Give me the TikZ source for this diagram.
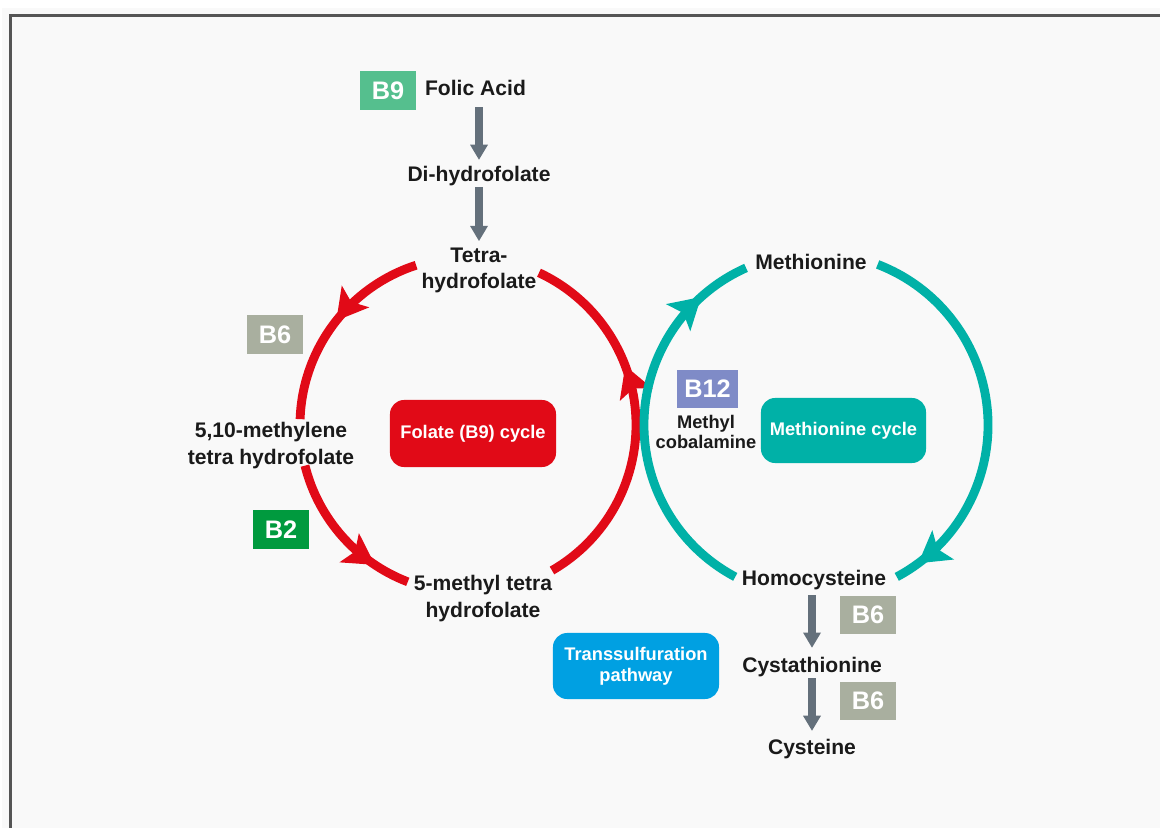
\documentclass[tikz,border=0pt]{standalone}
\usepackage{fontspec}
\setmainfont{Liberation Sans}
\usetikzlibrary{arrows.meta,decorations.markings}
\definecolor{cred}{RGB}{225,10,23}
\definecolor{cteal}{RGB}{0,177,167}
\definecolor{cblue}{RGB}{0,160,226}
\definecolor{cbnine}{RGB}{85,191,142}
\definecolor{cbsix}{RGB}{169,175,159}
\definecolor{cbtwo}{RGB}{0,154,62}
\definecolor{cbtwelve}{RGB}{127,139,199}
\definecolor{garr}{RGB}{100,112,123}
\definecolor{txt}{RGB}{26,26,26}
\definecolor{bg}{RGB}{249,249,249}
\definecolor{frame}{RGB}{85,85,85}
\tikzset{
  rtip/.tip={Stealth[length=22pt,width=25pt,inset=5pt,line width=0pt]},
  ttip/.tip={Stealth[length=22pt,width=26pt,inset=5pt,line width=0pt]},
}
\begin{document}
\begin{tikzpicture}[x=0.025cm,y=-0.025cm,
  lbl/.style={font=\bfseries\fontsize{15}{19}\selectfont, text=txt, inner sep=0pt, text height=11.25pt, text depth=3.75pt},
  mlbl/.style={font=\bfseries\fontsize{15}{19}\selectfont, text=txt, inner sep=0pt, align=center},
  slbl/.style={font=\bfseries\fontsize{13}{14.2}\selectfont, text=txt, inner sep=0pt, align=center},
  vit/.style={font=\bfseries\fontsize{18}{22}\selectfont, text=white, inner sep=0pt, minimum width=1.4cm, minimum height=0.975cm},
  cyc/.style={rounded corners=10pt, font=\bfseries\fontsize{13}{14.9}\selectfont, text=white, inner sep=0pt, align=center, minimum width=4.15cm, minimum height=1.65cm},
  garrow/.style={draw=garr, line width=5.5pt, -{Triangle[length=10.7pt,width=12.8pt,line width=0pt]}},
  redarc/.style={draw=cred, line width=6.3pt},
  tealarc/.style={draw=cteal, line width=6.3pt},
  mk/.style 2 args={postaction={decorate}, decoration={markings, mark=at position #1 with {\arrow{#2}}}},
]
\useasboundingbox (0,0) rectangle (1160,828);
\fill[white] (0,0) rectangle (1160,828);
\fill[bg] (2,8) rectangle (1160,828);
\draw[frame, line width=1.5pt] (10.5,830) -- (10.5,15.5) -- (1165,15.5);

% circles
\coordinate (R) at (468,425);
\coordinate (T) at (816,425);
\draw[redarc, mk={0.48}{rtip}] (R) ++(-108:168) arc[start angle=-108, end angle=-178, radius=168];
\draw[redarc, mk={0.77}{rtip}] (R) ++(-194:168) arc[start angle=-194, end angle=-249, radius=168];
\draw[redarc, mk={0.645}{rtip}] (R) ++(60:168) arc[start angle=60, end angle=-65, radius=168];
\draw[tealarc, mk={0.86}{ttip}] (T) ++(-242:172) arc[start angle=-242, end angle=-114, radius=172];
\draw[tealarc, mk={0.935}{ttip}] (T) ++(-69:172) arc[start angle=-69, end angle=62, radius=172];

% vitamin boxes
\node[vit, fill=cbnine] (b9) at (388,90.5) {B9};
\node[vit, fill=cbsix] (b6a) at (275,334.5) {B6};
\node[vit, fill=cbtwo] (b2) at (281,529.5) {B2};
\node[vit, fill=cbtwelve, minimum width=1.525cm, minimum height=0.95cm] (b12) at (707.5,389) {B12};
\node[vit, fill=cbsix, minimum height=0.95cm] (b6b) at (868,615) {B6};
\node[vit, fill=cbsix, minimum height=0.95cm] (b6c) at (868,701) {B6};

% cycle boxes
\node[cyc, fill=cred, text height=9.75pt, text depth=3.25pt, minimum height=1.675cm] (folate) at (473,433.5) {Folate (B9) cycle};
\node[cyc, fill=cteal, text height=9.75pt, text depth=3.25pt, minimum width=4.125cm, minimum height=1.625cm] (metcyc) at (843.5,430.5) {Methionine cycle};
\node[cyc, fill=cblue] (trans) at (636,666) {Transsulfuration\\pathway};

% labels
\node[lbl] (folic) at (475.5,90.3) {Folic Acid};
\node[lbl] (dihydro) at (479,176.3) {Di-hydrofolate};
\node[mlbl] (tetra) at (479,270.5) {Tetra-\\hydrofolate};
\node[mlbl] (methylene) at (271,445.5) {5,10-methylene\\tetra hydrofolate};
\node[mlbl] (methyl) at (483,598.5) {5-methyl tetra\\hydrofolate};
\node[slbl] (cobal) at (706,432) {Methyl\\cobalamine};
\node[lbl] (met) at (811,264.3) {Methionine};
\node[lbl] (homo) at (814,580.3) {Homocysteine};
\node[lbl] (cysta) at (812,667.3) {Cystathionine};
\node[lbl] (cys) at (812,749.3) {Cysteine};

% gray arrows
\draw[garrow, shorten <=4.4pt, shorten >=4.1pt] (dihydro.north |- folic.south) -- (dihydro.north);
\draw[garrow, shorten <=0.2pt, shorten >=4.6pt] (dihydro.south) -- (tetra.north -| dihydro.south);
\draw[garrow, shorten <=3pt, shorten >=6.3pt] (cysta.north |- homo.south) -- (cysta.north);
\draw[garrow, shorten <=0.2pt, shorten >=5.5pt] (cysta.south) -- (cys.north);
\end{tikzpicture}
\end{document}
